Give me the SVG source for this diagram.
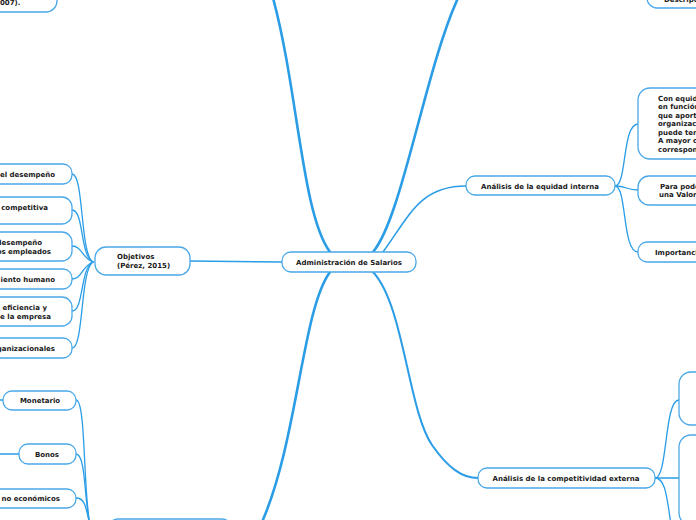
<svg xmlns="http://www.w3.org/2000/svg" width="696" height="520" viewBox="0 0 696 520">
<style>
.n{fill:#fff;stroke:#4aa8e8;stroke-width:1.3}
.c{fill:none;stroke:#2a9de6;stroke-linecap:round}
.t{font-family:"DejaVu Sans",Verdana,sans-serif;font-weight:bold;font-size:7px;fill:#1a1a1a}
.m{text-anchor:middle}
.e{text-anchor:end}
</style>
<rect width="696" height="520" fill="#fff"/>
<g id="connectors">
<path class="c" stroke-width="2.6" d="M330,252 C302,215 298,90 273,-2"/>
<path class="c" stroke-width="2.6" d="M373,252 C402,218 425,70 458,-2"/>
<path class="c" stroke-width="1.6" d="M383,252 C410,215 420,186 466,186"/>
<path class="c" stroke-width="2.6" d="M330,272 C302,310 298,440 262,522"/>
<path class="c" stroke-width="2" d="M373,272 C404,305 408,410 432,445 C448,468 462,478 478,478"/>
<path class="c" stroke-width="1.5" d="M190,261 L282,262"/>
<path class="c" stroke-width="1.3" d="M72,174 C84,174 80,255 93,262"/>
<path class="c" stroke-width="1.3" d="M72,210 C84,210 80,256 93,262"/>
<path class="c" stroke-width="1.3" d="M72,246 C82,246 82,258 93,262"/>
<path class="c" stroke-width="1.3" d="M72,279 C82,279 82,266 93,262"/>
<path class="c" stroke-width="1.3" d="M72,311 C84,311 80,268 93,262"/>
<path class="c" stroke-width="1.3" d="M72,348 C84,348 80,270 93,262"/>
<path class="c" stroke-width="1.3" d="M76,400 C86,400 83,490 90,525"/>
<path class="c" stroke-width="1.3" d="M76,454 C86,454 84,500 90,525"/>
<path class="c" stroke-width="1.3" d="M76,498 C86,498 86,510 90,525"/>
<path class="c" stroke-width="1.3" d="M-2,400 L3,400"/>
<path class="c" stroke-width="1.3" d="M-2,454 L19,454"/>
<path class="c" stroke-width="1.3" d="M615,186 C627,186 622,124 638,124"/>
<path class="c" stroke-width="1.3" d="M615,186 C627,186 626,190 638,190"/>
<path class="c" stroke-width="1.3" d="M615,186 C627,186 622,252 638,252"/>
<path class="c" stroke-width="1.3" d="M655,478 C668,478 664,400 679,400"/>
<path class="c" stroke-width="1.3" d="M655,478 L679,478"/>
<path class="c" stroke-width="1.3" d="M655,478 C666,478 667,500 671,524"/>
</g>
<g id="n-center"><rect class="n" x="282" y="252" width="134" height="20" rx="9"/><text class="t m" x="349" y="264.5">Administración de Salarios</text></g>
<g id="n-objetivos"><rect class="n" x="95" y="247" width="95" height="28" rx="11"/><text class="t" x="117" y="259">Objetivos</text><text class="t" x="117" y="268">(Pérez, 2015)</text></g>
<g id="n-o1"><rect class="n" x="-60" y="164" width="132" height="20" rx="9"/><text class="t e" x="55" y="176.5">el desempeño</text></g>
<g id="n-o2"><rect class="n" x="-60" y="197" width="132" height="27" rx="10"/><text class="t e" x="48" y="209.5">competitiva</text></g>
<g id="n-o3"><rect class="n" x="-60" y="232" width="132" height="29" rx="10"/><text class="t e" x="42" y="245">desempeño</text><text class="t e" x="51" y="254">os empleados</text></g>
<g id="n-o4"><rect class="n" x="-60" y="269" width="132" height="20" rx="9"/><text class="t e" x="55" y="281.5">iento humano</text></g>
<g id="n-o5"><rect class="n" x="-60" y="297" width="132" height="29" rx="10"/><text class="t e" x="47" y="310">eficiencia y</text><text class="t e" x="51" y="319">e la empresa</text></g>
<g id="n-o6"><rect class="n" x="-60" y="338" width="132" height="20" rx="9"/><text class="t e" x="55" y="350.5">ganizacionales</text></g>
<g id="n-monetario"><rect class="n" x="3" y="391" width="73" height="19" rx="9"/><text class="t m" x="40" y="402.5">Monetario</text></g>
<g id="n-bonos"><rect class="n" x="19" y="444" width="57" height="20" rx="9"/><text class="t m" x="47" y="456.5">Bonos</text></g>
<g id="n-noeco"><rect class="n" x="-60" y="489" width="136" height="19" rx="9"/><text class="t e" x="60" y="500.5">no económicos</text></g>
<g id="n-bottom"><rect class="n" x="108" y="519" width="124" height="30" rx="10"/></g>
<g id="n-topleft"><rect class="n" x="-100" y="-30" width="157" height="42" rx="11"/><text class="t" x="0" y="4.5">007).</text></g>
<g id="n-topright"><rect class="n" x="647" y="-30" width="100" height="38" rx="10"/><text class="t" x="664" y="1.5">Descripción</text></g>
<g id="n-equidad"><rect class="n" x="466" y="176" width="149" height="19" rx="9"/><text class="t m" x="540" y="188.5">Análisis de la equidad interna</text></g>
<g id="n-e1"><rect class="n" x="638" y="88" width="80" height="71" rx="12"/>
<text class="t" x="658" y="100.5">Con equidad</text><text class="t" x="658" y="109">en función</text><text class="t" x="658" y="117.5">que aporta</text><text class="t" x="658" y="126">organización</text><text class="t" x="658" y="134.5">puede tener</text><text class="t" x="658" y="143">A mayor c</text><text class="t" x="658" y="151.5">corresponde</text></g>
<g id="n-e2"><rect class="n" x="638" y="176" width="80" height="29" rx="11"/><text class="t" x="660" y="188.5">Para poder</text><text class="t" x="659" y="197">una Valoración</text></g>
<g id="n-e3"><rect class="n" x="638" y="242" width="80" height="20" rx="9"/><text class="t" x="655" y="254.5">Importancia</text></g>
<g id="n-competitividad"><rect class="n" x="478" y="468" width="177" height="20" rx="9"/><text class="t m" x="566" y="480.5">Análisis de la competitividad externa</text></g>
<g id="n-c1"><rect class="n" x="679" y="372" width="60" height="53" rx="12"/></g>
<g id="n-c2"><rect class="n" x="679" y="435" width="60" height="90" rx="12"/></g>
</svg>
